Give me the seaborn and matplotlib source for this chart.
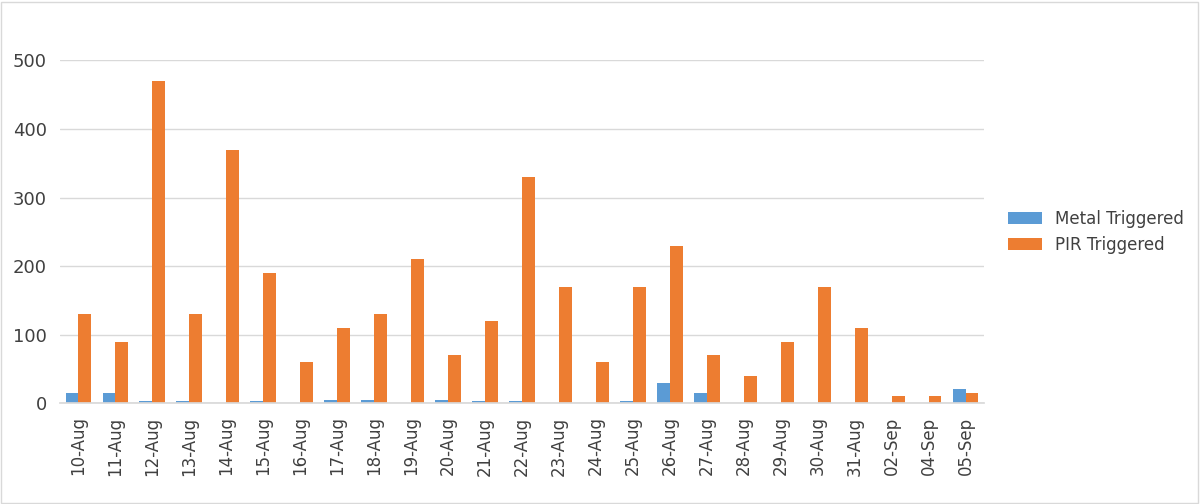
import matplotlib
matplotlib.use("Agg")
import matplotlib.pyplot as plt
import seaborn as sns
import pandas as pd

dates = ["10-Aug","11-Aug","12-Aug","13-Aug","14-Aug","15-Aug","16-Aug","17-Aug","18-Aug","19-Aug",
         "20-Aug","21-Aug","22-Aug","23-Aug","24-Aug","25-Aug","26-Aug","27-Aug","28-Aug","29-Aug",
         "30-Aug","31-Aug","02-Sep","04-Sep","05-Sep"]
metal = [15,15,3,3,0,3,0,5,5,0,5,3,3,0,0,3,30,15,0,0,0,0,0,0,20]
pir = [130,90,470,130,370,190,60,110,130,210,70,120,330,170,60,170,230,70,40,90,170,110,10,10,15]

df = pd.DataFrame({"Date": dates*2,
                   "Count": metal+pir,
                   "Series": ["Metal Triggered"]*len(dates)+["PIR Triggered"]*len(dates)})

sns.set_theme(style="white")
fig, ax = plt.subplots(figsize=(12, 5.04), dpi=100)
sns.barplot(data=df, x="Date", y="Count", hue="Series",
            palette={"Metal Triggered": "#5B9BD5", "PIR Triggered": "#ED7D31"},
            saturation=1, width=0.7, ax=ax, edgecolor="none")
ax.set_ylim(0, 500)
ax.set_yticks([0,100,200,300,400,500])
ax.yaxis.grid(True, color="#D9D9D9")
ax.set_axisbelow(True)
for s in ax.spines.values():
    s.set_visible(False)
ax.spines["bottom"].set_visible(True)
ax.spines["bottom"].set_color("#D9D9D9")
ax.set_xlabel("")
ax.set_ylabel("")
ax.tick_params(axis="x", rotation=90, labelsize=12, colors="#404040")
ax.tick_params(axis="y", labelsize=13, colors="#404040")
ax.legend(loc="center left", bbox_to_anchor=(1.01, 0.5), frameon=False, fontsize=12,
          labelcolor="#404040")
fig.patches.append(plt.Rectangle((0.001, 0.002), 0.997, 0.995, transform=fig.transFigure,
                                 fill=False, edgecolor="#D9D9D9", linewidth=1))
fig.subplots_adjust(left=0.05, right=0.82, top=0.88, bottom=0.2)
fig.savefig("out.png")
